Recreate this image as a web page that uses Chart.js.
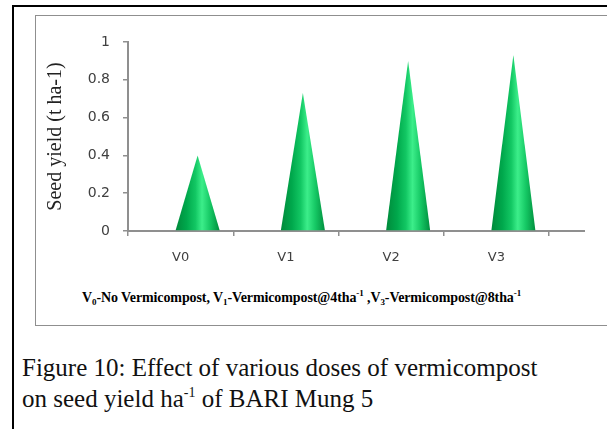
<!DOCTYPE html>
<html>
<head>
<meta charset="utf-8">
<script src="https://cdn.jsdelivr.net/npm/chart.js@4"></script>
<style>
    body { margin: 0; background: #fff; width: 607px; height: 429px; overflow: hidden; position: relative; }
    .outer { position: absolute; left: 12px; top: 5px; width: 700px; height: 500px; border-left: 2px solid #000; border-top: 2px solid #000; }
    .frame { position: absolute; left: 35px; top: 15px; width: 640px; height: 309px; border: 1px solid #8f8f8f; }
    #chart { position: absolute; left: 0; top: 0; }
    .xnote { position: absolute; left: 82px; top: 288px; font: bold 14px "Liberation Serif", serif; letter-spacing: -0.1px; white-space: nowrap; color: #000; }
    .xnote sub, .xnote sup { font-size: 9px; }
    .caption { position: absolute; left: 22px; top: 352px; font: 25px "Liberation Serif", serif; line-height: 31px; color: #111; white-space: nowrap; }
    .caption sup { font-size: 14px; vertical-align: 10px; line-height: 0; }
</style>
</head>
<body>
<div class="outer"></div>
<div class="frame"></div>
<canvas id="chart" width="607" height="270"></canvas>
<div class="xnote">V<sub>0</sub>-No Vermicompost, V<sub>1</sub>-Vermicompost@4tha<sup>-1</sup> ,V<sub>3</sub>-Vermicompost@8tha<sup>-1</sup></div>
<div class="caption">Figure 10: Effect of various doses of vermicompost<br>on seed yield ha<sup>-1</sup> of BARI Mung 5</div>
<script>
    // data
    var categories = ['V0', 'V1', 'V2', 'V3'];
    var seedYield = [0.4, 0.73, 0.9, 0.93];
    var yTicks = [0, 0.2, 0.4, 0.6, 0.8, 1];
    var yTickLabels = ['0', '0.2', '0.4', '0.6', '0.8', '1'];

    var axisGray = '#8f8f8f';

    // draws each bar as a shaded cone, like the excel 3d chart
    var conePlugin = {
        id: 'cones',
        afterDatasetsDraw: function (chart) {
            var ctx = chart.ctx;
            var meta = chart.getDatasetMeta(0);
            meta.data.forEach(function (bar) {
                var cx = bar.x + 17;
                var half = 22;
                var grad = ctx.createLinearGradient(cx - half, 0, cx + half, 0);
                grad.addColorStop(0, '#008a3b');
                grad.addColorStop(0.25, '#00a84c');
                grad.addColorStop(0.45, '#12c763');
                grad.addColorStop(0.6, '#3cee8a');
                grad.addColorStop(0.78, '#16c965');
                grad.addColorStop(1, '#008f3e');
                ctx.save();
                ctx.beginPath();
                ctx.moveTo(cx - half, bar.base);
                ctx.lineTo(cx, bar.y);
                ctx.lineTo(cx + half, bar.base);
                ctx.closePath();
                ctx.fillStyle = grad;
                ctx.fill();
                ctx.restore();
            });
        },
        afterDraw: function (chart) {
            // floor of the 3d box runs past the last category
            var ctx = chart.ctx;
            var a = chart.chartArea;
            ctx.save();
            ctx.strokeStyle = axisGray;
            ctx.lineWidth = 2;
            ctx.beginPath();
            ctx.moveTo(a.right, a.bottom);
            ctx.lineTo(585, a.bottom);
            ctx.stroke();
            ctx.restore();
        }
    };

    new Chart(document.getElementById('chart'), {
        type: 'bar',
        data: {
            labels: categories,
            datasets: [{
                data: seedYield,
                backgroundColor: 'rgba(0,0,0,0)',
                borderWidth: 0
            }]
        },
        plugins: [conePlugin],
        options: {
            responsive: false,
            animation: false,
            layout: { padding: { left: 44, right: 58, top: 42, bottom: 0 } },
            plugins: { legend: { display: false }, tooltip: { enabled: false } },
            scales: {
                x: {
                    offset: true,
                    grid: { offset: true, drawOnChartArea: false, color: axisGray, lineWidth: 1.5, tickLength: 5 },
                    border: { color: axisGray, width: 2 },
                    ticks: { color: '#404040', padding: 14, font: { family: 'DejaVu Sans', size: 13 } },
                    afterFit: function (scale) { scale.height = 39; }
                },
                y: {
                    min: 0,
                    max: 1,
                    afterBuildTicks: function (scale) {
                        scale.ticks = yTicks.map(function (v) { return { value: v }; });
                    },
                    grid: { drawOnChartArea: false, color: axisGray, lineWidth: 1.5, tickLength: 5 },
                    border: { color: axisGray, width: 2 },
                    ticks: {
                        color: '#404040',
                        padding: 13,
                        font: { family: 'DejaVu Sans', size: 14 },
                        callback: function (value, index) { return yTickLabels[index]; }
                    },
                    title: {
                        display: true,
                        text: 'Seed yield (t ha-1)',
                        color: '#222',
                        font: { family: "'Liberation Serif', serif", size: 20 },
                        padding: { top: 0, bottom: 0 }
                    },
                    afterFit: function (scale) { scale.width = 84; }
                }
            }
        }
    });
</script>
</body>
</html>
